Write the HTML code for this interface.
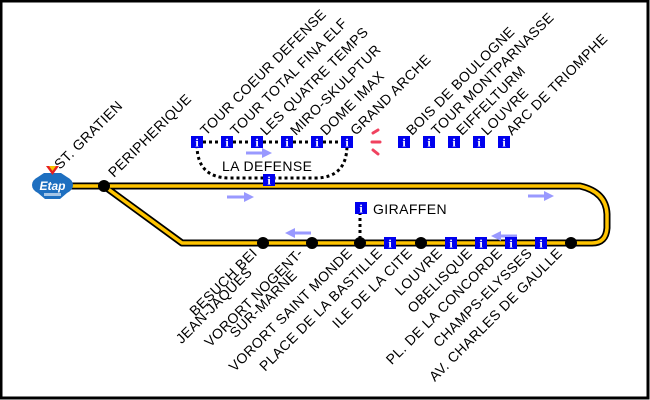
<!DOCTYPE html>
<html><head><meta charset="utf-8"><style>
html,body{margin:0;padding:0;background:#fff}
svg{display:block}
text{font-family:"Liberation Sans",Arial,sans-serif;font-size:14px;letter-spacing:0.4px;fill:#000}
.ib{fill:#0000ee}
.it{font-family:"Liberation Serif",serif;font-weight:bold;font-size:12px;fill:#fff;letter-spacing:0}
</style></head><body>
<svg width="650" height="400" viewBox="0 0 650 400" xmlns="http://www.w3.org/2000/svg">
<defs>
<g id="info"><rect x="-6" y="-6" width="12" height="12" class="ib"/><text x="0" y="4.5" text-anchor="middle" class="it">i</text></g>
<marker id="ah" markerWidth="10" markerHeight="10" refX="4" refY="5" orient="auto" markerUnits="userSpaceOnUse"><path d="M0,0 L10,5 L0,10 Z" fill="#9999ff"/></marker>
</defs>
<rect x="1" y="1" width="647" height="397" fill="#fff" stroke="#000" stroke-width="3"/>
<path d="M70,186 L580,186 Q606,192 607,214 L607,228 Q606,243 592,243 L182,243 L104,186" fill="none" stroke="#000" stroke-width="7" stroke-linejoin="round"/>
<path d="M70,186 L580,186 Q606,192 607,214 L607,228 Q606,243 592,243 L182,243 L104,186" fill="none" stroke="#ffc400" stroke-width="3.5" stroke-linejoin="round"/>
<path d="M197,142 L347,142" stroke="#000" stroke-width="3" stroke-dasharray="3,3" fill="none"/>
<path d="M197,145 Q197,178 230,178 L315,178 Q347,178 347,145" stroke="#000" stroke-width="3" stroke-dasharray="3,3" fill="none"/>
<path d="M360,212 L360,240" stroke="#000" stroke-width="3" stroke-dasharray="3,3" fill="none"/>
<g stroke="#9999ff" stroke-width="3" fill="none">
<path d="M246,153 L266,153" marker-end="url(#ah)"/>
<path d="M227,197 L248,197" marker-end="url(#ah)"/>
<path d="M311,233 L291,233" marker-end="url(#ah)"/>
<path d="M517,236 L497,236" marker-end="url(#ah)"/>
<path d="M528,196 L548,196" marker-end="url(#ah)"/>
</g>
<g fill="#000">
<circle cx="104" cy="186" r="6"/>
<circle cx="263" cy="243" r="6"/>
<circle cx="312" cy="243" r="6"/>
<circle cx="360" cy="243" r="6"/>
<circle cx="421" cy="243" r="6"/>
<circle cx="571" cy="243" r="6"/>
</g>
<use href="#info" x="197" y="142"/><use href="#info" x="227" y="142"/><use href="#info" x="257" y="142"/>
<use href="#info" x="287" y="142"/><use href="#info" x="317" y="142"/><use href="#info" x="347" y="142"/>
<use href="#info" x="404" y="142"/><use href="#info" x="429" y="142"/><use href="#info" x="454" y="142"/>
<use href="#info" x="479" y="142"/><use href="#info" x="504" y="142"/>
<use href="#info" x="269" y="180"/>
<use href="#info" x="361" y="208"/>
<use href="#info" x="390" y="243"/><use href="#info" x="451" y="243"/><use href="#info" x="481" y="243"/>
<use href="#info" x="511" y="243"/><use href="#info" x="541" y="243"/>
<g stroke="#ee2244" stroke-width="3" stroke-linecap="round" opacity="0.85">
<path d="M373,133 L378,130"/><path d="M372,142 L380,142"/><path d="M373,150 L378,154"/>
</g>
<path d="M32,185 Q32,180 38,177 L44,173 L61,173 L67,177 Q73,180 73,185 Q73,190 67,193 L60,199 L45,199 L38,193 Q32,190 32,185 Z" fill="#1e6fc0"/>
<path d="M46,166 L59,166 L52.5,175 Z" fill="#e82020"/>
<path d="M49,166 L56,166 L52.5,171 Z" fill="#f5c400"/>
<text x="52.5" y="190" text-anchor="middle" style="font-size:12px;font-weight:bold;font-style:italic;fill:#fff;letter-spacing:0">Etap</text>
<rect x="44" y="193" width="17" height="3" fill="#fff" opacity="0.6"/>
<text x="222" y="171">LA DEFENSE</text>
<text x="373" y="214">GIRAFFEN</text>
<g>
<text transform="translate(60,170) rotate(-45)">ST. GRATIEN</text>
<text transform="translate(114,178) rotate(-45)">PERIPHERIQUE</text>
<text transform="translate(206,136) rotate(-45)">TOUR COEUR DEFENSE</text>
<text transform="translate(236,136) rotate(-45)">TOUR TOTAL FINA ELF</text>
<text transform="translate(266,136) rotate(-45)">LES QUATRE TEMPS</text>
<text transform="translate(296,136) rotate(-45)">MIRO-SKULPTUR</text>
<text transform="translate(326,136) rotate(-45)">DOME IMAX</text>
<text transform="translate(356,136) rotate(-45)">GRAND ARCHE</text>
<text transform="translate(412,136) rotate(-45)">BOIS DE BOULOGNE</text>
<text transform="translate(437,136) rotate(-45)">TOUR MONTPARNASSE</text>
<text transform="translate(462,136) rotate(-45)">EIFFELTURM</text>
<text transform="translate(487,136) rotate(-45)">LOUVRE</text>
<text transform="translate(512,136) rotate(-45)">ARC DE TRIOMPHE</text>
</g>
<g text-anchor="end">
<text transform="translate(258,254) rotate(-45)">BESUCH BEI</text>
<text transform="translate(253,273) rotate(-45)">JEAN-JAQUES</text>
<text transform="translate(304,254) rotate(-45)">VORORT NOGENT-</text>
<text transform="translate(298,276) rotate(-45)">SUR-MARNE</text>
<text transform="translate(353,254) rotate(-45)">VORORT SAINT MONDE</text>
<text transform="translate(383,254) rotate(-45)">PLACE DE LA BASTILLE</text>
<text transform="translate(413,254) rotate(-45)">ILE DE LA CITE</text>
<text transform="translate(443,254) rotate(-45)">LOUVRE</text>
<text transform="translate(473,254) rotate(-45)">OBELISQUE</text>
<text transform="translate(503,254) rotate(-45)">PL. DE LA CONCORDE</text>
<text transform="translate(533,254) rotate(-45)">CHAMPS-ELYSSES</text>
<text transform="translate(563,254) rotate(-45)">AV. CHARLES DE GAULLE</text>
</g>
</svg>
</body></html>
